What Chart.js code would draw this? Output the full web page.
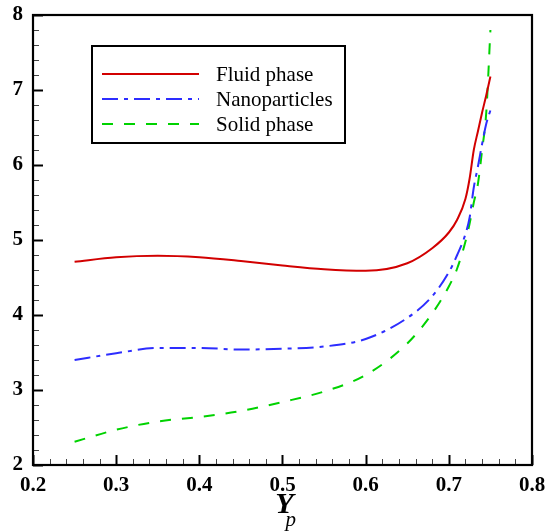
<!DOCTYPE html>
<html>
<head>
<meta charset="utf-8">
<script src="https://cdn.jsdelivr.net/npm/chart.js@4"></script>
<style>
  html, body { margin: 0; padding: 0; background: #fff; }
  #wrap { width: 550px; height: 531px; }
</style>
</head>
<body>
<div id="wrap"><canvas id="chart" width="550" height="531"></canvas></div>
<script>
// values
var xValues = [0.25, 0.3, 0.35, 0.4, 0.45, 0.5, 0.55, 0.6, 0.65, 0.68, 0.7, 0.71, 0.72, 0.725, 0.73, 0.735, 0.74, 0.745, 0.75];
var fluidPhase    = [4.71, 4.77, 4.79, 4.77, 4.72, 4.66, 4.61, 4.59, 4.69, 4.89, 5.10, 5.27, 5.55, 5.82, 6.20, 6.45, 6.70, 6.93, 7.18];
var nanoparticles = [3.40, 3.49, 3.56, 3.56, 3.54, 3.55, 3.58, 3.68, 3.96, 4.25, 4.57, 4.80, 5.08, 5.30, 5.70, 5.98, 6.28, 6.55, 6.73];
var solidPhase    = [2.31, 2.47, 2.58, 2.64, 2.72, 2.84, 2.98, 3.20, 3.62, 4.02, 4.38, 4.62, 4.98, 5.22, 5.50, 5.75, 6.20, 6.70, 7.80];
var seriesNames = ['Fluid phase', 'Nanoparticles', 'Solid phase'];
var xTickValues = [0.2, 0.3, 0.4, 0.5, 0.6, 0.7, 0.8];
var yTickValues = [2, 3, 4, 5, 6, 7, 8];

var serif = '"Liberation Serif", "Times New Roman", serif';

function pts(ys) {
    return xValues.map(function (x, i) { return { x: x, y: ys[i] }; });
}

// frame, inward ticks, boxed legend and the Y_p title
var decor = {
    id: 'decor',
    afterDraw: function (chart) {
        var c = chart.ctx, a = chart.chartArea;
        var xs = chart.scales.x, ys = chart.scales.y;
        c.save();
        c.strokeStyle = '#000';

        // minor + major ticks, bottom and left only
        for (var i = 0; i <= 30; i++) {
            var v = 0.2 + i * 0.02;
            var px = Math.round(xs.getPixelForValue(v)) + 0.5;
            var major = i % 5 === 0;
            c.lineWidth = major ? 2 : 1;
            c.strokeStyle = major ? '#000' : '#444';
            c.beginPath();
            c.moveTo(px, a.bottom);
            c.lineTo(px, a.bottom - (major ? 10 : 6));
            c.stroke();
        }
        for (var j = 0; j <= 30; j++) {
            var w = 2 + j * 0.2;
            var py = Math.round(ys.getPixelForValue(w)) + 0.5;
            var maj = j % 5 === 0;
            c.lineWidth = maj ? 2 : 1;
            c.strokeStyle = maj ? '#000' : '#444';
            c.beginPath();
            c.moveTo(a.left, py);
            c.lineTo(a.left + (maj ? 10 : 6), py);
            c.stroke();
        }

        // frame
        c.strokeStyle = '#000';
        c.lineWidth = 2.2;
        c.strokeRect(a.left, a.top, a.right - a.left, a.bottom - a.top);

        // legend box
        c.lineWidth = 2;
        c.strokeRect(92, 46, 253, 97);
        var rows = [74, 99, 124];
        chart.data.datasets.forEach(function (ds, k) {
            c.strokeStyle = ds.borderColor;
            c.lineWidth = ds.borderWidth;
            c.setLineDash(ds.borderDash || []);
            c.beginPath();
            c.moveTo(102, rows[k]);
            c.lineTo(199, rows[k]);
            c.stroke();
            c.setLineDash([]);
            c.fillStyle = '#000';
            c.font = '21px ' + serif;
            c.textAlign = 'left';
            c.textBaseline = 'middle';
            c.fillText(ds.label, 216, rows[k] + 1);
        });

        // axis title Y with subscript p
        var cx = (a.left + a.right) / 2;
        c.fillStyle = '#000';
        c.textBaseline = 'alphabetic';
        c.textAlign = 'right';
        c.font = 'italic bold 30px ' + serif;
        c.fillText('Y', cx + 11, 513);
        c.textAlign = 'left';
        c.font = 'italic 21px ' + serif;
        c.fillText('p', cx + 3, 526);
        c.restore();
    }
};

var ctx = document.getElementById('chart').getContext('2d');
var myChart = new Chart(ctx, {
    type: 'line',
    data: {
        datasets: [{
            label: seriesNames[0],
            data: pts(fluidPhase),
            borderColor: 'rgb(210, 0, 0)',
            borderWidth: 2
        }, {
            label: seriesNames[1],
            data: pts(nanoparticles),
            borderColor: 'rgb(45, 45, 255)',
            borderWidth: 2,
            borderDash: [16, 6, 4, 6]
        }, {
            label: seriesNames[2],
            data: pts(solidPhase),
            borderColor: 'rgb(0, 210, 0)',
            borderWidth: 2,
            borderDash: [11, 11]
        }]
    },
    options: {
        responsive: false,
        animation: false,
        devicePixelRatio: 1,
        layout: { padding: { left: 0, right: 18, top: 15, bottom: 0 } },
        elements: {
            point: { radius: 0 },
            line: { cubicInterpolationMode: 'monotone', fill: false }
        },
        plugins: {
            legend: { display: false },
            tooltip: { enabled: false }
        },
        scales: {
            x: {
                type: 'linear',
                min: 0.2,
                max: 0.8,
                afterBuildTicks: function (s) { s.ticks = xTickValues.map(function (v) { return { value: v }; }); },
                afterFit: function (s) { s.height = 66; s.paddingLeft = 0; s.paddingRight = 0; },
                grid: { display: false, drawTicks: false },
                border: { display: false },
                ticks: {
                    color: '#000',
                    padding: 8,
                    maxRotation: 0,
                    font: { family: serif, size: 21, weight: 'bold' },
                    callback: function (v) { return v.toFixed(1); }
                }
            },
            y: {
                min: 2,
                max: 8,
                afterBuildTicks: function (s) { s.ticks = yTickValues.map(function (v) { return { value: v }; }); },
                afterFit: function (s) { s.width = 33; s.paddingTop = 0; s.paddingBottom = 0; },
                grid: { display: false, drawTicks: false },
                border: { display: false },
                ticks: {
                    color: '#000',
                    padding: 10,
                    font: { family: serif, size: 21, weight: 'bold' }
                }
            }
        }
    },
    plugins: [decor]
});
</script>
</body>
</html>
